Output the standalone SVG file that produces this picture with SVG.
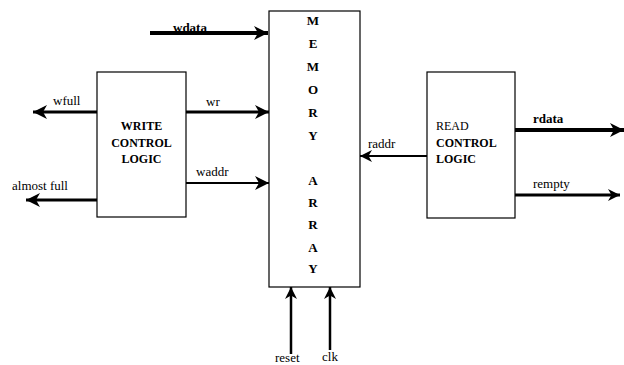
<svg xmlns="http://www.w3.org/2000/svg" width="624" height="365" viewBox="0 0 624 365">
<defs>
<marker id="ah" markerUnits="userSpaceOnUse" markerWidth="16" markerHeight="14" refX="14" refY="7" orient="auto">
<path d="M0,0 L14,7 L0,14 L4,7 Z" fill="#000"/>
</marker>
<marker id="ahs" markerUnits="userSpaceOnUse" markerWidth="14" markerHeight="12" refX="12" refY="6" orient="auto">
<path d="M0,0 L12,6 L0,12 L3.5,6 Z" fill="#000"/>
</marker>
</defs>
<style>
.box{fill:#fff;stroke:#000;stroke-width:1.2}
.lbl{font-family:"Liberation Serif","Times New Roman",serif;font-size:13px;fill:#000}
.bx{font-family:"Liberation Serif","Times New Roman",serif;font-size:12px;fill:#000}
.b{font-weight:bold}
.mem{font-family:"Liberation Serif","Times New Roman",serif;font-size:13px;font-weight:bold;text-anchor:middle}
.w{stroke:#000;fill:none}
</style>
<rect width="624" height="365" fill="#fff"/>
<g id="connectors">
<line class="w" x1="150" y1="33" x2="268" y2="33" stroke-width="4" marker-end="url(#ah)"/>
<line class="w" x1="97" y1="112" x2="33" y2="112" stroke-width="3" marker-end="url(#ah)"/>
<line class="w" x1="97" y1="200" x2="26" y2="200" stroke-width="3" marker-end="url(#ah)"/>
<line class="w" x1="186" y1="112" x2="269" y2="112" stroke-width="3" marker-end="url(#ah)"/>
<line class="w" x1="186" y1="183" x2="269" y2="183" stroke-width="2" marker-end="url(#ah)"/>
<line class="w" x1="427" y1="156" x2="360" y2="156" stroke-width="2" marker-end="url(#ahs)"/>
<line class="w" x1="515" y1="130" x2="624" y2="130" stroke-width="4" marker-end="url(#ah)"/>
<line class="w" x1="515" y1="195" x2="620" y2="195" stroke-width="3" marker-end="url(#ahs)"/>
<line class="w" x1="291" y1="354" x2="291" y2="287" stroke-width="2.5" marker-end="url(#ahs)"/>
<line class="w" x1="330" y1="350" x2="330" y2="287" stroke-width="2.5" marker-end="url(#ahs)"/>
<text class="lbl b" x="173" y="32">wdata</text>
<text class="lbl" x="53" y="105">wfull</text>
<text class="lbl" x="12" y="190">almost full</text>
<text class="lbl" x="206" y="106">wr</text>
<text class="lbl" x="196" y="176">waddr</text>
<text class="lbl" x="368" y="148">raddr</text>
<text class="lbl b" x="533" y="123">rdata</text>
<text class="lbl" x="533" y="188">rempty</text>
<text class="lbl" x="275" y="362">reset</text>
<text class="lbl" x="322" y="361">clk</text>
</g>
<g id="write-control">
<rect class="box" x="97" y="72" width="89" height="145"/>
<text class="bx b" x="141.5" y="130" text-anchor="middle">WRITE</text>
<text class="bx b" x="141.5" y="147" text-anchor="middle">CONTROL</text>
<text class="bx b" x="141.5" y="163" text-anchor="middle">LOGIC</text>
</g>
<g id="memory-array">
<rect class="box" x="269" y="11" width="91" height="276"/>
<text class="mem" x="313" y="25">M</text>
<text class="mem" x="313" y="48">E</text>
<text class="mem" x="313" y="71">M</text>
<text class="mem" x="313" y="94">O</text>
<text class="mem" x="313" y="117">R</text>
<text class="mem" x="313" y="140">Y</text>
<text class="mem" x="313" y="185">A</text>
<text class="mem" x="313" y="207">R</text>
<text class="mem" x="313" y="229">R</text>
<text class="mem" x="313" y="252">A</text>
<text class="mem" x="313" y="273">Y</text>
</g>
<g id="read-control">
<rect class="box" x="427" y="72" width="88" height="146"/>
<text class="bx" x="436" y="130">READ</text>
<text class="bx b" x="436" y="147">CONTROL</text>
<text class="bx b" x="436" y="163">LOGIC</text>
</g>
</svg>
